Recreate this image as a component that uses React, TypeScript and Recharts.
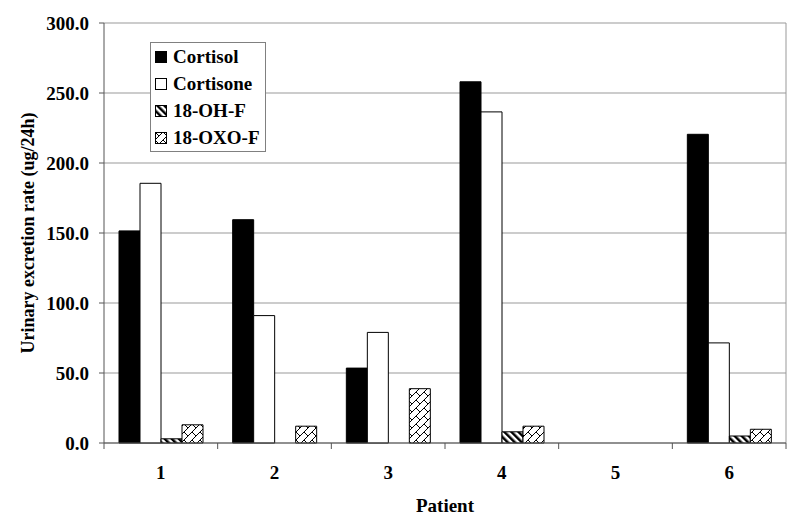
// Urinary excretion of cortisol and metabolites per patient
import { ComposedChart, Bar, XAxis, YAxis, CartesianGrid, Legend } from "recharts";

const patients = ["1", "2", "3", "4", "5", "6"];
const cortisol = [151.5, 159.5, 53.5, 258.0, 0, 220.5];
const cortisone = [185.5, 91.0, 79.0, 236.5, 0, 71.5];
const ohF = [3.0, 0, 0, 8.0, 0, 5.0];
const oxoF = [13.0, 12.0, 38.8, 12.0, 0, 9.8];
const yTicks = [0, 50, 100, 150, 200, 250, 300];

const seriesKeys = ["cortisol", "cortisone", "ohF", "oxoF"];
const seriesNames = ["Cortisol", "Cortisone", "18-OH-F", "18-OXO-F"];
const seriesFills = ["#000000", "#ffffff", "url(#ohStripes)", "url(#oxoBrick)"];

const chartData = patients.map((p, i) => ({
  patient: p,
  cortisol: cortisol[i],
  cortisone: cortisone[i],
  ohF: ohF[i],
  oxoF: oxoF[i],
}));

const W = 784;
const H = 510;
const PLOT_LEFT = 96;
const PLOT_RIGHT = 778;
const PLOT_BOTTOM = 435;
const BAND = (PLOT_RIGHT - PLOT_LEFT) / patients.length;
const FONT = "Liberation Serif";

function PatientTick(props: any) {
  const { x, index, payload } = props;
  const half = BAND / 2;
  return (
    <g>
      <line x1={x - half} x2={x - half} y1={PLOT_BOTTOM} y2={PLOT_BOTTOM + 6} stroke="#555" />
      {index === patients.length - 1 && (
        <line x1={x + half} x2={x + half} y1={PLOT_BOTTOM} y2={PLOT_BOTTOM + 6} stroke="#555" />
      )}
      <text x={x} y={471} textAnchor="middle" fontFamily={FONT} fontSize={19} fontWeight="bold" fill="#000">
        {payload.value}
      </text>
    </g>
  );
}

function LegendBox() {
  return (
    <div
      style={{
        width: 116,
        border: "1px solid #808080",
        background: "#fff",
        boxSizing: "border-box",
        fontFamily: FONT,
      }}
    >
      {seriesNames.map((name, i) => (
        <div key={name} style={{ height: 27, display: "flex", alignItems: "center", paddingLeft: 4 }}>
          <svg width={12} height={12} style={{ marginRight: 6, flex: "none" }}>
            <rect x={0.5} y={0.5} width={11} height={11} fill={seriesFills[i]} stroke="#000" />
          </svg>
          <span
            style={{
              fontFamily: FONT,
              fontSize: 19,
              fontWeight: "bold",
              lineHeight: "27px",
              whiteSpace: "nowrap",
              color: "#000",
            }}
          >
            {name}
          </span>
        </div>
      ))}
    </div>
  );
}

export default function App() {
  return (
    <div style={{ width: W, height: H, fontFamily: FONT }}>
      <ComposedChart
        width={W}
        height={H}
        data={chartData}
        margin={{ top: 15, right: W - PLOT_RIGHT, bottom: 0, left: 0 }}
        barSize={21}
        barGap={0}
      >
        <defs>
          <pattern id="ohStripes" width={5} height={5} patternUnits="userSpaceOnUse" patternTransform="rotate(-45)">
            <rect width={5} height={5} fill="#fff" />
            <rect width={2.5} height={5} fill="#000" />
          </pattern>
          <pattern id="oxoBrick" width={8} height={8} patternUnits="userSpaceOnUse">
            <rect width={8} height={8} fill="#fff" />
            <path d="M0,8 L8,0 M-1,1 L1,-1 M7,9 L9,7 M0,0 L4,4" stroke="#000" strokeWidth={1} fill="none" />
          </pattern>
        </defs>
        <CartesianGrid
          stroke="#999"
          horizontal
          vertical
          verticalCoordinatesGenerator={({ offset }: any) => [offset.left + offset.width]}
        />
        <XAxis
          dataKey="patient"
          height={H - PLOT_BOTTOM}
          axisLine={{ stroke: "#555" }}
          tickLine={false}
          tick={<PatientTick />}
          interval={0}
          label={(props: any) => {
            const vb = props.viewBox || {};
            return (
              <text
                x={vb.x + vb.width / 2}
                y={504}
                textAnchor="middle"
                fontFamily={FONT}
                fontSize={19}
                fontWeight="bold"
                fill="#000"
              >
                Patient
              </text>
            );
          }}
        />
        <YAxis
          width={PLOT_LEFT}
          domain={[0, 300]}
          ticks={yTicks}
          tickFormatter={(v: number) => v.toFixed(1)}
          axisLine={{ stroke: "#555" }}
          tickLine={{ stroke: "#555" }}
          tickSize={5}
          tickMargin={10}
          tick={{ fill: "#000", fontSize: 19, fontWeight: "bold", fontFamily: FONT }}
          label={(props: any) => {
            const vb = props.viewBox || {};
            const cy = vb.y + vb.height / 2;
            return (
              <text
                x={20}
                y={cy}
                transform={`rotate(-90, 20, ${cy})`}
                textAnchor="middle"
                dominantBaseline="central"
                fontFamily={FONT}
                fontSize={18}
                fontWeight="bold"
                fill="#000"
              >
                Urinary excretion rate (ug/24h)
              </text>
            );
          }}
        />
        <Legend
          layout="vertical"
          align="center"
          verticalAlign="middle"
          content={() => <LegendBox />}
          wrapperStyle={{ left: 142, top: 34, width: 116, height: "auto" }}
        />
        {seriesKeys.map((key, i) => (
          <Bar
            key={key}
            dataKey={key}
            name={seriesNames[i]}
            fill={seriesFills[i]}
            stroke="#000"
            strokeWidth={1}
            isAnimationActive={false}
          />
        ))}
      </ComposedChart>
    </div>
  );
}
